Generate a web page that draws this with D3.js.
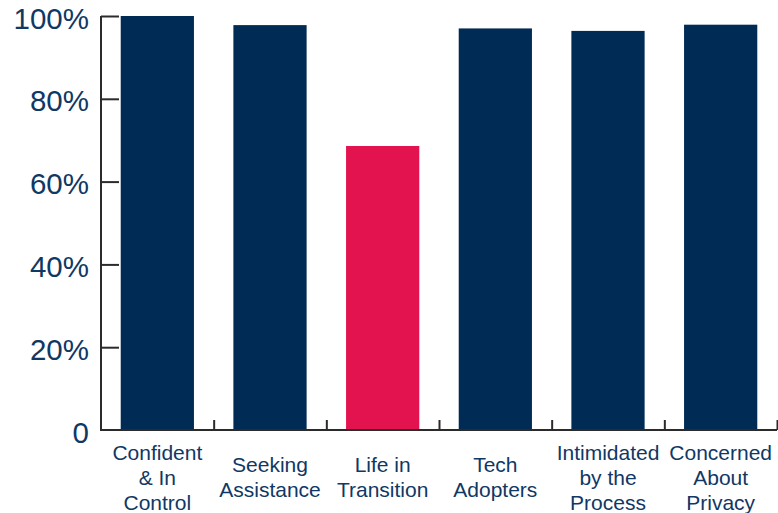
<!DOCTYPE html>
<html>
<head>
<meta charset="utf-8">
<script src="https://cdn.jsdelivr.net/npm/d3@7"></script>
<style>
  html, body { margin: 0; padding: 0; background: #ffffff; }
  svg { display: block; }
</style>
</head>
<body>
<svg id="chart" width="778" height="513"></svg>
<script>
// Share of respondents by segment
const categories = [
  ["Confident", "& In", "Control"],
  ["Seeking", "Assistance"],
  ["Life in", "Transition"],
  ["Tech", "Adopters"],
  ["Intimidated", "by the", "Process"],
  ["Concerned", "About", "Privacy"]
];
const values = [100, 97.8, 68.6, 97.0, 96.4, 97.9];
const highlight = [false, false, true, false, false, false];
const yTicks = [0, 20, 40, 60, 80, 100];
const yTickLabels = ["0", "20%", "40%", "60%", "80%", "100%"];

const navy = "#002b55";
const red = "#e3134f";
const textColor = "#0f3864";
const axisColor = "#2b2b2b";

const svg = d3.select("#chart");
const plotLeft = 101, plotRight = 777, plotTop = 16, plotBottom = 430;

const x = d3.scaleBand()
  .domain(d3.range(categories.length))
  .range([plotLeft, plotRight])
  .paddingInner(0.35)
  .paddingOuter(0.175);

const y = d3.scaleLinear().domain([0, 100]).range([plotBottom, plotTop]);

// Bars
svg.append("g")
  .selectAll("rect")
  .data(values)
  .join("rect")
  .attr("x", (d, i) => x(i))
  .attr("y", d => y(d))
  .attr("width", x.bandwidth())
  .attr("height", d => y(0) - y(d))
  .attr("fill", (d, i) => highlight[i] ? red : navy);

// Y axis: ticks point inward toward the bars
const yAxis = svg.append("g")
  .attr("transform", `translate(${plotLeft},0)`)
  .call(d3.axisRight(y).tickValues(yTicks).tickSize(18).tickFormat(""));
yAxis.select(".domain").attr("d", `M0,${plotTop}V${plotBottom}`);
yAxis.selectAll(".tick").filter(d => d === 0).remove();
yAxis.selectAll("path, line").attr("stroke", axisColor).attr("stroke-width", 2);

// Y tick labels
svg.append("g")
  .selectAll("text")
  .data(yTicks)
  .join("text")
  .attr("x", 89)
  .attr("y", d => y(d) + 2)
  .attr("text-anchor", "end")
  .attr("dominant-baseline", "central")
  .attr("font-family", "Liberation Sans, Arial, Helvetica, sans-serif")
  .attr("font-size", 29.5)
  .attr("fill", textColor)
  .text((d, i) => yTickLabels[i]);

// X axis: separator ticks between bands, pointing up
const sepScale = d3.scaleLinear().domain([0, categories.length]).range([plotLeft, plotRight]);
const xAxis = svg.append("g")
  .attr("transform", `translate(0,${plotBottom})`)
  .call(d3.axisTop(sepScale).tickValues(d3.range(1, categories.length + 1)).tickSize(10).tickFormat(""));
xAxis.select(".domain").attr("d", `M${plotLeft - 1},0H${plotRight}`);
xAxis.selectAll("path, line").attr("stroke", axisColor).attr("stroke-width", 2);

// Category labels, multi-line, centered on each band
const lineH = 25;
const labelMid = 477;
const labels = svg.append("g")
  .selectAll("text")
  .data(categories)
  .join("text")
  .attr("text-anchor", "middle")
  .attr("font-family", "Liberation Sans, Arial, Helvetica, sans-serif")
  .attr("font-size", 21)
  .attr("fill", textColor);

labels.each(function(lines, i) {
  const cx = x(i) + x.bandwidth() / 2;
  const start = labelMid - (lines.length - 1) * lineH / 2;
  d3.select(this).selectAll("tspan")
    .data(lines)
    .join("tspan")
    .attr("x", cx)
    .attr("y", (d, j) => start + j * lineH)
    .attr("dominant-baseline", "central")
    .text(d => d);
});
</script>
</body>
</html>
